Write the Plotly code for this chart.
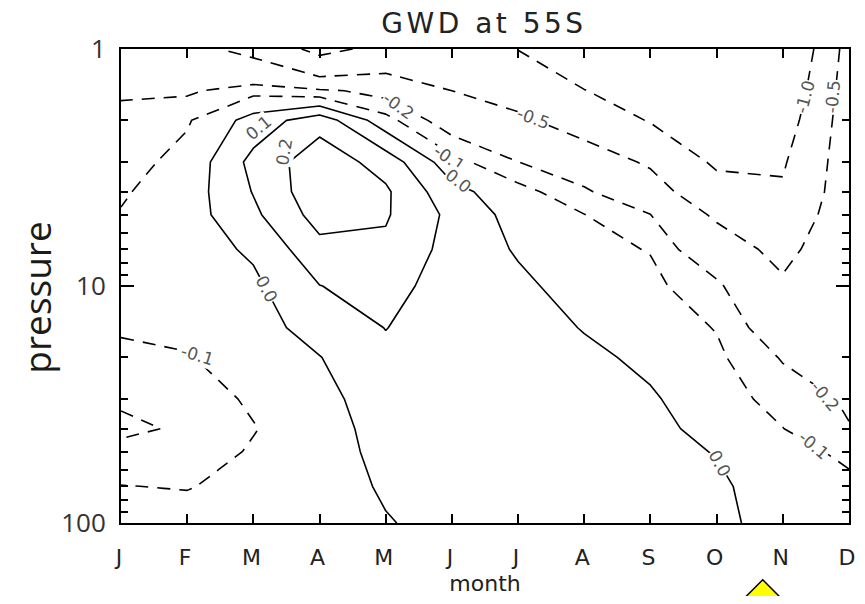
import numpy as np
import plotly.graph_objects as go

# ---- data ----
months = ["J", "F", "M", "A", "M", "J", "J", "A", "S", "O", "N", "D"]
month_index = list(range(12))
pressure = [1, 1.5, 2, 3, 4, 5, 7, 10, 15, 20, 30, 40, 50, 70, 100]

# GWD values, one list per pressure level, columns J..D
gwd_p1 = [-0.35, -0.40, -0.60, -1.15, -0.85, -0.90, -1.01, -1.30, -1.35, -1.50, -1.60, -0.32]
gwd_p1_5 = [-0.21, -0.22, -0.13, -0.17, -0.25, -0.50, -0.67, -0.99, -1.20, -1.35, -1.40, -0.27]
gwd_p2 = [-0.18, -0.11, 0.04, 0.16, -0.06, -0.28, -0.43, -0.68, -1.03, -1.25, -1.25, -0.25]
gwd_p3 = [-0.135, -0.07, 0.13, 0.26, 0.16, -0.06, -0.198, -0.30, -0.55, -1.08, -1.05, -0.24]
gwd_p4 = [-0.11, -0.05, 0.105, 0.27, 0.215, 0.03, -0.06, -0.18, -0.33, -0.80, -0.95, -0.235]
gwd_p5 = [-0.095, -0.045, 0.08, 0.24, 0.21, 0.075, -0.04, -0.098, -0.198, -0.55, -0.80, -0.235]
gwd_p7 = [-0.08, -0.045, 0.015, 0.17, 0.18, 0.066, -0.01, -0.07, -0.105, -0.33, -0.60, -0.235]
gwd_p10 = [-0.07, -0.05, -0.02, 0.098, 0.14, 0.05, 0.02, -0.04, -0.075, -0.17, -0.45, -0.235]
gwd_p15 = [-0.09, -0.08, -0.04, 0.04, 0.102, 0.05, 0.045, -0.005, -0.045, -0.105, -0.30, -0.235]
gwd_p20 = [-0.12, -0.105, -0.06, -0.003, 0.08, 0.05, 0.06, 0.02, -0.02, -0.08, -0.21, -0.23]
gwd_p30 = [-0.18, -0.15, -0.085, -0.03, 0.05, 0.045, 0.07, 0.04, 0.01, -0.05, -0.14, -0.215]
gwd_p40 = [-0.23, -0.18, -0.105, -0.04, 0.035, 0.04, 0.075, 0.05, 0.025, -0.03, -0.098, -0.195]
gwd_p50 = [-0.16, -0.15, -0.09, -0.04, 0.025, 0.035, 0.075, 0.055, 0.035, -0.005, -0.09, -0.106]
gwd_p70 = [-0.098, -0.105, -0.07, -0.04, 0.01, 0.03, 0.075, 0.06, 0.045, 0.02, -0.06, -0.094]
gwd_p100 = [-0.07, -0.06, -0.06, -0.04, -0.005, 0.025, 0.07, 0.06, 0.05, 0.03, -0.05, -0.07]

neg_levels = [-1.0, -0.5, -0.2, -0.1]
pos_levels = [0.0, 0.1, 0.2]

y_tick_vals = [1, 10, 100]
y_tick_text = ["1", "10", "100"]
y_minor_vals = [2, 3, 4, 5, 6, 7, 8, 9, 20, 30, 40, 50, 60, 70, 80, 90]

# contour label texts: (text, month position, pressure, angle)
contour_labels = [
    ("-0.2", 4.20, 1.736, 36), ("-0.1", 4.96, 2.87, 34), ("0.0", 5.10, 3.59, 38),
    ("0.1", 2.07, 2.15, -40), ("0.2", 2.46, 2.71, -80), ("0.0", 2.20, 10.3, 62),
    ("-0.1", 1.15, 19.5, 17), ("-0.5", 6.23, 1.95, 20), ("-1.0", 10.33, 1.59, -75),
    ("-0.5", 10.75, 1.59, -85), ("-0.2", 10.64, 29.0, 50), ("-0.1", 10.46, 47.0, 40),
    ("0.0", 9.04, 56.0, 62),
]

# ---- build figure ----
z = [gwd_p1, gwd_p1_5, gwd_p2, gwd_p3, gwd_p4, gwd_p5, gwd_p7, gwd_p10,
     gwd_p15, gwd_p20, gwd_p30, gwd_p40, gwd_p50, gwd_p70, gwd_p100]
logp = np.log10(pressure)

fig = go.Figure()
for lev in neg_levels + pos_levels:
    fig.add_trace(go.Contour(
        x=month_index, y=logp, z=z,
        autocontour=False,
        contours=dict(start=lev, end=lev, size=0.05, coloring="none", showlabels=False),
        line=dict(color="black", width=1.6,
                  dash="13px,9px" if lev < 0 else "solid", smoothing=0),
        showscale=False, hoverinfo="skip",
    ))

annotations = []
for txt, mx, p, ang in contour_labels:
    annotations.append(dict(
        text=txt, x=mx, y=float(np.log10(p)), xref="x", yref="y",
        textangle=ang, showarrow=False, bgcolor="white", borderpad=0,
        font=dict(family="DejaVu Sans", size=17, color="#555555")))

annotations.append(dict(
    text="pressure", textangle=-90, xref="paper", yref="paper",
    x=(36 - 121) / 734, y=(525 - 299) / 476,
    xanchor="center", yanchor="middle", showarrow=False,
    font=dict(family="Open Sans", size=37, color="#1a1a1a")))

# decorative yellow marker below the axis
fig.add_shape(type="path", xref="paper", yref="paper",
              path="M 0.8815 -0.1197 L 0.9605 -0.2416 L 0.8025 -0.2416 Z",
              fillcolor="#FFFF00", line=dict(color="black", width=1.5), layer="above")

# the page body keeps an 8px margin on every side; the figure is sized so
# that it plus those margins fills the 865x604 window exactly
OFF = 8
W, H = 865 - 2 * OFF, 604 - 2 * OFF
fig.update_layout(
    width=W, height=H,
    margin=dict(l=121 - OFF, r=W - (855 - OFF), t=49 - OFF, b=H - (525 - OFF)),
    paper_bgcolor="white", plot_bgcolor="white",
    showlegend=False,
    title=dict(text='<span style="letter-spacing:3.5px">GWD at 55S</span>',
               x=0.4986, xref="paper", xanchor="center",
               y=1 - (23 - OFF) / H, yref="container", yanchor="middle",
               font=dict(family="DejaVu Sans", size=28, color="#222222")),
    xaxis=dict(range=[0, 11], tickmode="array", tickvals=month_index, ticktext=months,
               ticks="inside", ticklen=9, tickwidth=1.5, tickcolor="black",
               showline=True, linecolor="black", linewidth=2, mirror="ticks",
               showgrid=False, zeroline=False, ticklabelstandoff=14,
               ticklabeloverflow="allow", ticklabelshift=-2,
               tickfont=dict(family="DejaVu Sans", size=22, color="#222222"),
               title=dict(text="month", standoff=8,
                          font=dict(family="DejaVu Sans", size=22, color="#222222"))),
    yaxis=dict(range=[2, 0], tickmode="array", tickvals=list(np.log10(y_tick_vals)),
               ticktext=y_tick_text,
               ticks="inside", ticklen=13, tickwidth=1.5, tickcolor="black",
               minor=dict(tickmode="array", tickvals=list(np.log10(y_minor_vals)),
                          ticks="inside", ticklen=7, tickwidth=1.5, tickcolor="black",
                          showgrid=False),
               showline=True, linecolor="black", linewidth=2, mirror="ticks",
               showgrid=False, zeroline=False, ticklabelstandoff=8,
               tickfont=dict(family="Open Sans", size=26, color="#333333")),
    annotations=annotations,
)

fig.write_html("out.html", config={"displayModeBar": False})
